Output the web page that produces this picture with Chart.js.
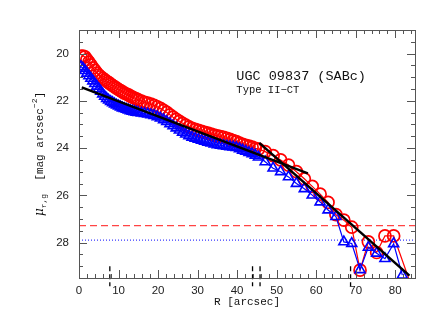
<!DOCTYPE html>
<html>
<head>
<meta charset="utf-8">
<script src="https://cdn.jsdelivr.net/npm/chart.js@4.4.1/dist/chart.umd.min.js"></script>
<style>
  html, body { margin: 0; padding: 0; background: #fff; }
  #wrap { width: 430px; height: 333px; }
</style>
</head>
<body>
<div id="wrap"><canvas id="profile" width="430" height="333"></canvas></div>
<script>
// radii of the profile points (arcsec)
const radius = [0.5, 1.0, 1.5, 2.0, 2.5, 3.0, 3.5, 4.0, 4.5, 5.0, 5.5, 6.0, 6.5, 7.0, 7.5,
  8.0, 8.5, 9.0, 9.5, 10.0, 10.5, 11.0, 11.5, 12.0, 12.5, 13.0, 13.5, 14.0, 14.5, 15.0,
  15.8, 16.6, 17.4, 18.2, 19.0, 19.8, 20.6, 21.4, 22.2, 23.0, 23.8, 24.6, 25.4, 26.2, 27.0,
  27.8, 28.6, 29.4, 30.2, 31.0, 31.8, 32.6, 33.4, 34.2, 35.0, 35.8, 36.6, 37.4, 38.2, 39.0,
  39.8, 40.6, 41.4, 42.2, 43.0, 43.8, 44.6, 45.4,
  47.1, 49.1, 51.0, 53.0, 55.0, 57.0, 59.0, 61.0, 63.0, 65.0, 67.0, 69.0, 71.1, 73.2,
  75.3, 77.4, 79.6, 81.8, 84.0];

// r band (red circles)
const muR = [20.12, 20.10, 20.14, 20.25, 20.36, 20.48, 20.60, 20.71, 20.82, 20.91, 20.98, 21.05, 21.11, 21.17, 21.23,
  21.29, 21.35, 21.41, 21.46, 21.52, 21.57, 21.62, 21.67, 21.71, 21.75, 21.80, 21.84, 21.88, 21.92, 21.96,
  22.01, 22.06, 22.10, 22.14, 22.19, 22.25, 22.32, 22.40, 22.49, 22.59, 22.69, 22.78, 22.87, 22.95, 23.03,
  23.10, 23.16, 23.21, 23.25, 23.29, 23.33, 23.37, 23.41, 23.45, 23.48, 23.51, 23.55, 23.59, 23.63, 23.68,
  23.73, 23.79, 23.84, 23.88, 23.92, 23.96, 24.01, 24.04,
  24.15, 24.32, 24.50, 24.72, 25.00, 25.30, 25.62, 25.95, 26.30, 26.82, 27.05, 27.35, 29.17, 27.97,
  28.42, 27.72, 27.72, null, 29.80];

// g band (blue triangles)
const muG = [20.55, 20.62, 20.72, 20.83, 20.94, 21.05, 21.16, 21.27, 21.38, 21.49, 21.60, 21.71, 21.81, 21.90, 21.97,
  22.03, 22.08, 22.13, 22.18, 22.22, 22.26, 22.30, 22.33, 22.36, 22.39, 22.42, 22.44, 22.46, 22.48, 22.50,
  22.52, 22.54, 22.56, 22.59, 22.62, 22.67, 22.73, 22.80, 22.88, 22.97, 23.06, 23.15, 23.24, 23.33, 23.41,
  23.48, 23.54, 23.59, 23.63, 23.67, 23.71, 23.75, 23.79, 23.83, 23.86, 23.88, 23.90, 23.92, 23.94, 23.96,
  23.98, 24.03, 24.09, 24.14, 24.19, 24.24, 24.30, 24.38,
  24.58, 24.85, 25.00, 25.22, 25.50, 25.72, 25.99, 26.28, 26.62, 26.90, 27.97, 28.04, 29.15, 28.20,
  28.45, 28.68, 28.05, 29.38, null];

// fitted exponentials (inner / outer disc)
const innerFit = [[0.7, 21.43], [57.9, 25.07]];
const outerFit = [[45.6, 23.78], [83.6, 29.40]];

// sky limits
const skyR = 27.28;
const skyG = 27.9;

// break / limit markers along the bottom
const breakMarks = [7.8, 43.9, 45.8, 68.7];

const xTicks = [0, 10, 20, 30, 40, 50, 60, 70, 80];
const yTicks = [20, 22, 24, 26, 28];

const toPts = (xs, ys) => xs.map((r, i) => ({ x: r, y: ys[i] }));
const pairPts = (pairs) => pairs.map(p => ({ x: p[0], y: p[1] }));

// first dataset ends up on top
const datasets = [
  { data: pairPts(innerFit), borderColor: '#000', borderWidth: 2.5, pointRadius: 0 },
  { data: pairPts(outerFit), borderColor: '#000', borderWidth: 2.5, pointRadius: 0 },
  {
    data: toPts(radius, muG), borderColor: '#0000ff', borderWidth: 1.2, spanGaps: true,
    pointStyle: 'triangle', pointRadius: 5.8, pointBorderWidth: 1.6,
    pointBorderColor: '#0000ff', pointBackgroundColor: 'rgba(0,0,0,0)'
  },
  {
    data: toPts(radius, muR), borderColor: '#ff0000', borderWidth: 1.2, spanGaps: true,
    pointStyle: 'circle', pointRadius: 6, pointBorderWidth: 1.7,
    pointBorderColor: '#ff0000', pointBackgroundColor: 'rgba(0,0,0,0)'
  },
  { data: [{ x: 0, y: skyR }, { x: 85, y: skyR }], borderColor: '#ff4444', borderWidth: 1.2, borderDash: [7, 4], pointRadius: 0 },
  { data: [{ x: 0, y: skyG }, { x: 85, y: skyG }], borderColor: '#3a3aff', borderWidth: 1.2, borderDash: [1, 2], pointRadius: 0 }
];

breakMarks.forEach(b => {
  datasets.push({
    data: [{ x: b, y: 29.0 }, { x: b, y: 29.85 }], borderColor: '#000', borderWidth: 1.3,
    borderDash: [5, 3], pointRadius: 0, clip: false
  });
});

const frame = {
  id: 'frame',
  afterDraw(chart) {
    const { ctx, chartArea: a, scales: { x, y } } = chart;
    ctx.save();
    ctx.strokeStyle = '#555';
    ctx.lineWidth = 1;
    ctx.strokeRect(a.left + 0.5, a.top + 0.5, a.right - a.left, a.bottom - a.top);
    ctx.beginPath();
    for (let v = 0; v <= 85; v += 2) {
      const px = Math.round(x.getPixelForValue(v)) + 0.5;
      const len = v % 10 === 0 ? 8 : 4;
      ctx.moveTo(px, a.bottom); ctx.lineTo(px, a.bottom - len);
      ctx.moveTo(px, a.top); ctx.lineTo(px, a.top + len);
    }
    for (let v = 19; v <= 29.5; v += 0.5) {
      const py = Math.round(y.getPixelForValue(v)) + 0.5;
      const len = v % 2 === 0 ? 8 : 4;
      ctx.moveTo(a.left, py); ctx.lineTo(a.left + len, py);
      ctx.moveTo(a.right, py); ctx.lineTo(a.right - len, py);
    }
    ctx.stroke();

    // galaxy name and profile type
    ctx.fillStyle = '#111';
    ctx.textBaseline = 'middle';
    ctx.font = '13.5px "Liberation Mono"';
    ctx.fillText('UGC 09837 (SABc)', x.getPixelForValue(39.8), y.getPixelForValue(20.95));
    ctx.font = '10.5px "Liberation Mono"';
    ctx.fillText('Type II\u2212CT', x.getPixelForValue(39.8), y.getPixelForValue(21.55));

    // y axis title: mu_{r,g} [mag arcsec^-2]
    const parts = [
      { t: '\u03bc', f: 'italic 12px "DejaVu Serif"', dy: 0 },
      { t: 'r,g', f: '8px "Liberation Mono"', dy: 4 },
      { t: '  [mag arcsec', f: '11px "Liberation Mono"', dy: 0 },
      { t: '\u22122', f: '8px "Liberation Mono"', dy: -5 },
      { t: ']', f: '11px "Liberation Mono"', dy: 0 }
    ];
    let total = 0;
    parts.forEach(p => { ctx.font = p.f; p.w = ctx.measureText(p.t).width; total += p.w; });
    ctx.translate(a.left - 39, (a.top + a.bottom) / 2);
    ctx.rotate(-Math.PI / 2);
    let cx = -total / 2;
    parts.forEach(p => { ctx.font = p.f; ctx.fillText(p.t, cx, p.dy); cx += p.w; });
    ctx.restore();
  }
};

new Chart(document.getElementById('profile'), {
  type: 'line',
  data: { datasets },
  options: {
    responsive: false,
    animation: false,
    layout: { padding: { left: 0, right: 15, top: 30, bottom: 0 } },
    plugins: { legend: { display: false }, tooltip: { enabled: false } },
    scales: {
      x: {
        type: 'linear', min: 0, max: 85,
        grid: { display: false, drawTicks: false },
        border: { display: false },
        afterBuildTicks: s => { s.ticks = xTicks.map(v => ({ value: v })); },
        afterFit: s => { s.height = 55; },
        ticks: { padding: 6, color: '#222', font: { family: 'Liberation Sans', size: 11.5 }, maxRotation: 0 },
        title: {
          display: true, text: 'R [arcsec]', color: '#111',
          font: { family: 'Liberation Mono', size: 11 }, padding: { top: 0, bottom: 24 }
        }
      },
      y: {
        type: 'linear', min: 19, max: 29.5, reverse: true,
        grid: { display: false, drawTicks: false },
        border: { display: false },
        afterBuildTicks: s => { s.ticks = yTicks.map(v => ({ value: v })); },
        afterFit: s => { s.width = 79; },
        ticks: { padding: 10, color: '#222', font: { family: 'Liberation Sans', size: 11.5 } }
      }
    }
  },
  plugins: [frame]
});
</script>
</body>
</html>
